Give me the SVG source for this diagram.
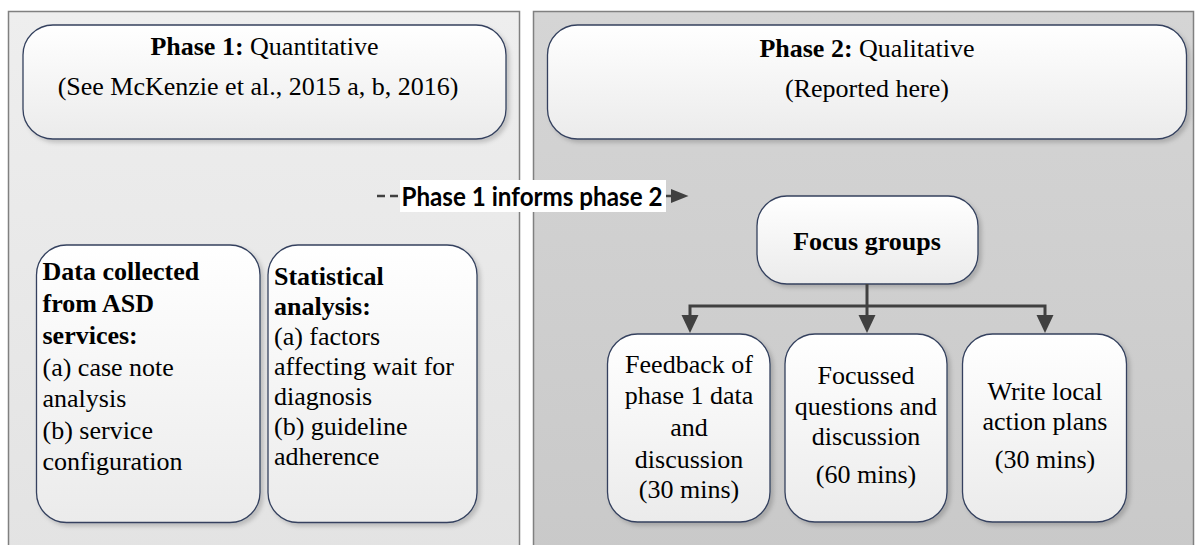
<svg xmlns="http://www.w3.org/2000/svg" width="1195" height="545" viewBox="0 0 1195 545">
<style>
.box{fill:url(#boxg);stroke:#34415e;stroke-width:1.3;filter:url(#sh)}
.t{font-family:"Liberation Serif","Times New Roman",serif;font-size:26px;fill:#000}
.c{text-anchor:middle}
.b{font-weight:bold}
.con{stroke:#404040;stroke-width:3;fill:none}
.ah{fill:#404040}
</style>
<defs>
<linearGradient id="boxg" x1="0" y1="0" x2="0" y2="1">
<stop offset="0" stop-color="#ffffff"/>
<stop offset="1" stop-color="#ebebeb"/>
</linearGradient>
<linearGradient id="lp" x1="0" y1="0" x2="0" y2="1">
<stop offset="0" stop-color="#eeeeee"/>
<stop offset="1" stop-color="#e3e3e3"/>
</linearGradient>
<linearGradient id="rp" x1="0" y1="0" x2="0" y2="1">
<stop offset="0" stop-color="#d5d5d5"/>
<stop offset="1" stop-color="#c9c9c9"/>
</linearGradient>
<filter id="sh" x="-10%" y="-10%" width="125%" height="125%">
<feDropShadow dx="3" dy="3" stdDeviation="2" flood-color="#000" flood-opacity="0.18"/>
</filter>
</defs>
<rect width="1195" height="545" fill="#ffffff"/>
<g id="panel1">
<rect x="8.5" y="11.5" width="511" height="545" fill="url(#lp)" stroke="#808080" stroke-width="1.5"/>
</g>
<g id="panel2">
<rect x="533.5" y="11.5" width="660" height="545" fill="url(#rp)" stroke="#808080" stroke-width="1.5"/>
</g>
<g id="phase1">
<rect class="box" x="23" y="25" width="483" height="114" rx="30"/>
<text class="t c" x="264.5" y="55"><tspan class="b">Phase 1:</tspan> Quantitative</text>
<text class="t c" x="258" y="95">(See McKenzie et al., 2015 a, b, 2016)</text>
</g>
<g id="phase2">
<rect class="box" x="547.5" y="25" width="639" height="114" rx="30"/>
<text class="t c" x="867" y="57"><tspan class="b">Phase 2:</tspan> Qualitative</text>
<text class="t c" x="867" y="96.5">(Reported here)</text>
</g>
<g id="data">
<rect class="box" x="36.5" y="245" width="223.5" height="277.5" rx="30"/>
<text class="t b" x="42.5" y="280">Data collected</text>
<text class="t b" x="42.5" y="312">from ASD</text>
<text class="t b" x="42.5" y="344">services:</text>
<text class="t" x="42.5" y="375.5">(a) case note</text>
<text class="t" x="42.5" y="407">analysis</text>
<text class="t" x="42.5" y="439">(b) service</text>
<text class="t" x="42.5" y="470">configuration</text>
</g>
<g id="stats">
<rect class="box" x="268" y="245" width="209" height="277.5" rx="30"/>
<text class="t b" x="274" y="285">Statistical</text>
<text class="t b" x="274" y="315">analysis:</text>
<text class="t" x="274" y="345">(a) factors</text>
<text class="t" x="274" y="375">affecting wait for</text>
<text class="t" x="274" y="405">diagnosis</text>
<text class="t" x="274" y="435">(b) guideline</text>
<text class="t" x="274" y="465">adherence</text>
</g>
<g id="focus">
<rect class="box" x="757" y="196" width="221" height="88" rx="30"/>
<text class="t c b" x="867" y="250">Focus groups</text>
</g>
<g id="feedback">
<rect class="box" x="607.5" y="334" width="162.5" height="188" rx="30"/>
<text class="t c" x="689" y="372.5">Feedback of</text>
<text class="t c" x="689" y="404">phase 1 data</text>
<text class="t c" x="689" y="436">and</text>
<text class="t c" x="689" y="467.5">discussion</text>
<text class="t c" x="689" y="498.3">(30 mins)</text>
</g>
<g id="focussed">
<rect class="box" x="785" y="334" width="162" height="188" rx="30"/>
<text class="t c" x="866" y="384">Focussed</text>
<text class="t c" x="866" y="415">questions and</text>
<text class="t c" x="866" y="445">discussion</text>
<text class="t c" x="866" y="483.3">(60 mins)</text>
</g>
<g id="write">
<rect class="box" x="962.5" y="334" width="164" height="188" rx="30"/>
<text class="t c" x="1045" y="400">Write local</text>
<text class="t c" x="1045" y="430">action plans</text>
<text class="t c" x="1045" y="468.3">(30 mins)</text>
</g>
<g id="connectors">
<line class="con" x1="867" y1="284" x2="867" y2="306"/>
<polyline class="con" points="690,316 690,306 1045,306 1045,316"/>
<line class="con" x1="867" y1="306" x2="867" y2="316"/>
<polygon class="ah" points="681.5,315 698.5,315 690,333"/>
<polygon class="ah" points="858.5,315 875.5,315 867,333"/>
<polygon class="ah" points="1036.5,315 1053.5,315 1045,333"/>
<line x1="377" y1="196" x2="672" y2="196" stroke="#404040" stroke-width="2.5" stroke-dasharray="8,5"/>
<polygon class="ah" points="671,189 688.5,196 671,203"/>
<rect x="400" y="180" width="266" height="32" fill="#ffffff"/>
<text x="401.5" y="206" font-family="Lato,'Open Sans',sans-serif" font-weight="bold" font-size="26" textLength="261" lengthAdjust="spacingAndGlyphs" fill="#000">Phase 1 informs phase 2</text>
</g>
</svg>
